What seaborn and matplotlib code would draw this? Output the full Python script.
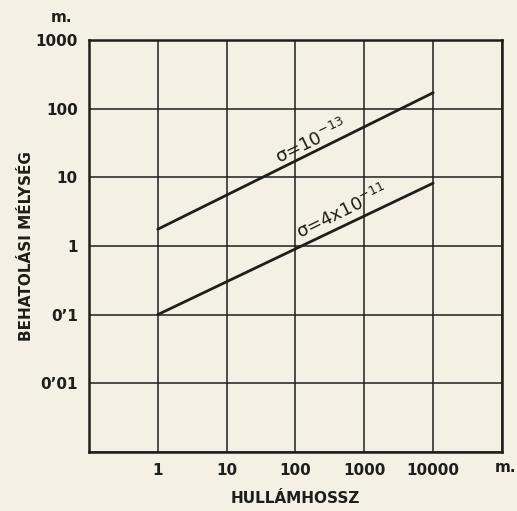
import numpy as np
import pandas as pd
import matplotlib
matplotlib.use("Agg")
import matplotlib.pyplot as plt
import seaborn as sns

# data (log-log, wavelength vs penetration depth)
wavelength = [1, 10000]
depth_low_sigma = [1.75, 170]   # sigma = 10^-13
depth_high_sigma = [0.1, 8.2]   # sigma = 4x10^-11
x_ticks = [0.1, 1, 10, 100, 1000, 10000, 100000]
x_labels = ["", "1", "10", "100", "1000", "10000", ""]
y_ticks = [0.001, 0.01, 0.1, 1, 10, 100, 1000]
y_labels = ["", "0\u201901", "0\u20191", "1", "10", "100", "1000"]

df = pd.DataFrame({
    "x": wavelength * 2,
    "y": depth_low_sigma + depth_high_sigma,
    "sigma": ["1e-13", "1e-13", "4e-11", "4e-11"],
})

bg = "#f4f0e3"
ink = "#1e1f1b"

sns.set_style("white")
plt.rcParams["font.family"] = ["DejaVu Sans"]

fig = plt.figure(figsize=(5.17, 5.11), dpi=100, facecolor=bg)
ax = fig.add_axes([0.172, 0.1155, 0.799, 0.8065])
ax.set_facecolor(bg)

sns.lineplot(data=df, x="x", y="y", units="sigma", estimator=None,
             color=ink, linewidth=2.0, ax=ax, legend=False)

ax.set_xscale("log")
ax.set_yscale("log")
ax.set_xlim(0.1, 100000)
ax.set_ylim(0.001, 1000)
ax.set_xticks(x_ticks)
ax.set_xticklabels(x_labels)
ax.set_yticks(y_ticks)
ax.set_yticklabels(y_labels)
ax.minorticks_off()
ax.tick_params(length=0, labelsize=11, colors=ink, pad=8)
for lab in ax.get_xticklabels() + ax.get_yticklabels():
    lab.set_fontweight("semibold")

ax.grid(True, which="major", color=ink, linewidth=1.1)
for s in ax.spines.values():
    s.set_visible(True)
    s.set_color(ink)
    s.set_linewidth(1.8)

ax.set_xlabel("HULLÁMHOSSZ", fontsize=11, fontweight="semibold", color=ink, labelpad=9)
ax.set_ylabel("BEHATOLÁSI MÉLYSÉG", fontsize=11, fontweight="semibold", color=ink, labelpad=1)

# unit markers
fig.text(61 / 517, 1 - 18 / 511, "m.", fontsize=11, fontweight="semibold", color=ink,
         ha="center", va="center")
fig.text(505 / 517, 1 - 468 / 511, "m.", fontsize=11, fontweight="semibold", color=ink,
         ha="center", va="center")

# curve labels along the lines
ax.text(62, 13.5, "σ=10$^{-13}$", rotation=26, rotation_mode="anchor",
        fontsize=13, color=ink, ha="left", va="bottom")
ax.text(125, 1.1, "σ=4x10$^{-11}$", rotation=26, rotation_mode="anchor",
        fontsize=13, color=ink, ha="left", va="bottom")

fig.savefig("out.png", dpi=100, facecolor=bg)
